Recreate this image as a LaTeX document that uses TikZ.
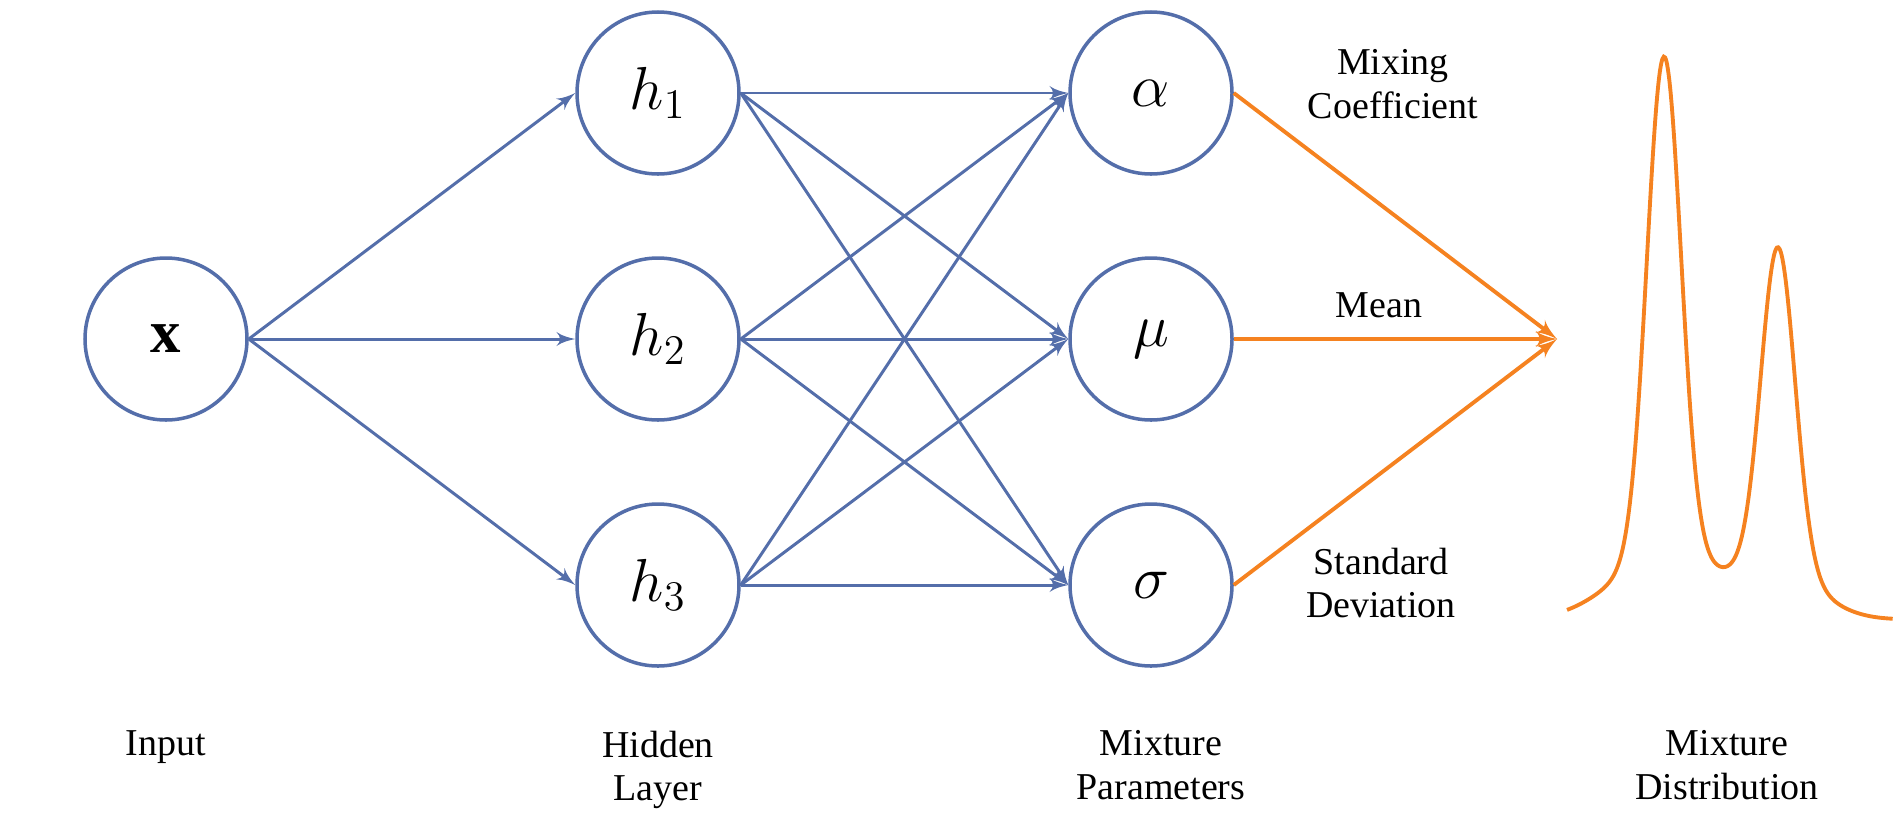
\documentclass[tikz,border=0pt]{standalone}
\usepackage{fontspec}
\setmainfont{Liberation Serif}
\usetikzlibrary{arrows}
\definecolor{netblue}{RGB}{84,110,170}
\definecolor{mixorange}{RGB}{245,130,32}
\tikzset{
    unit/.style={circle, draw=netblue, line width=1pt, minimum size=1.62cm, inner sep=0pt, font=\fontsize{17.28}{20}\selectfont},
    wire/.style={draw=netblue, line width=0.85pt, -latex'},
    owire/.style={draw=mixorange, line width=1.1pt, -latex'},
    caption/.style={align=center, inner sep=0pt, font=\fontsize{10.8}{12.4}\selectfont},
}

\begin{document}
\begin{tikzpicture}
    \useasboundingbox (0, 0) rectangle (19, 8.33);
    \node[unit] (x) at (1.66, 4.94) {$\mathbf{x}$};
    \foreach \i/\y in {1/7.40, 2/4.94, 3/2.48}{
        \node[unit] (h\i) at (6.58, \y) {$h_{\i}$};
    }
    \node[unit] (alpha) at (11.51, 7.40) {$\alpha$};
    \node[unit] (mu) at (11.51, 4.94) {$\mu$};
    \node[unit] (sigma) at (11.51, 2.48) {$\sigma$};
    \coordinate (mix) at (15.57, 4.94);
    \foreach \i in {1, 2, 3}{
        \draw [wire] (x.east) -- (h\i.west);
        \foreach \p in {alpha, mu, sigma}{
            \draw [wire] (h\i.east) -- (\p.west);
        }
    }
    \foreach \p in {alpha, mu, sigma}{
        \draw [owire] (\p.east) -- (mix);
    }
    \node[caption] (lmix) at (13.93, 7.49) {Mixing\\Coefficient};
    \node[caption] (lmean) at (13.79, 5.28) {Mean};
    \node[caption] (lstd) at (13.81, 2.50) {Standard\\Deviation};
    % mixture of two peaks
    \draw [mixorange, line width=1.1pt] plot [domain=15.67:18.93, samples=240, smooth]
        (\x, {2.134
            + 4.99*exp(max(-9, -(\x-16.64)*(\x-16.64)/0.0578))
            + 0.631*exp(max(-9, -(\x-16.64)*(\x-16.64)/0.5))
            + 3.21*exp(max(-9, -(\x-17.78)*(\x-17.78)/0.0578))
            + 0.466*exp(max(-9, -(\x-17.78)*(\x-17.78)/0.32))});
    \node[caption, anchor=north] (lin) at (1.66, 1.03) {Input};
    \node[caption, anchor=north] (lhid) at (6.58, 1.03) {Hidden\\Layer};
    \node[caption, anchor=north] (lpar) at (11.61, 1.03) {Mixture\\Parameters};
    \node[caption, anchor=north] (ldist) at (17.27, 1.03) {Mixture\\Distribution};
\end{tikzpicture}
\end{document}
